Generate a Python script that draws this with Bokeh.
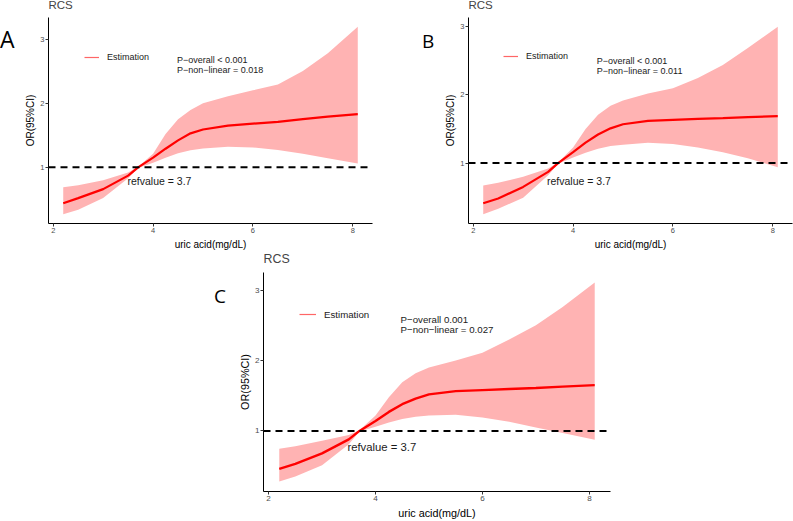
from bokeh.plotting import figure
from bokeh.models import (ColumnDataSource, Range1d, FixedTicker, Span, Label,
                          Legend, LegendItem, Spacer, Div)
from bokeh.layouts import row, column
from bokeh.embed import file_html
from bokeh.resources import INLINE

# ---------------- data ----------------
uric_acid = [2.2, 2.5, 3.0, 3.5, 3.7, 4.0, 4.25, 4.5, 4.75, 5.0, 5.5, 6.0, 6.5, 7.0, 7.5, 8.1]

or_a = [0.44, 0.52, 0.66, 0.87, 1.00, 1.15, 1.29, 1.42, 1.53, 1.59, 1.65, 1.68, 1.71, 1.75, 1.79, 1.83]
upper_a = [0.69, 0.72, 0.80, 0.92, 1.01, 1.21, 1.52, 1.75, 1.895, 2.00, 2.11, 2.20, 2.29, 2.50, 2.78, 3.19]
lower_a = [0.27, 0.34, 0.52, 0.83, 0.99, 1.07, 1.15, 1.22, 1.265, 1.295, 1.32, 1.31, 1.27, 1.21, 1.14, 1.06]

or_b = [0.41, 0.48, 0.65, 0.87, 1.00, 1.16, 1.30, 1.42, 1.51, 1.57, 1.62, 1.635, 1.65, 1.66, 1.675, 1.69]
upper_b = [0.67, 0.71, 0.80, 0.92, 1.01, 1.23, 1.50, 1.71, 1.84, 1.92, 2.02, 2.10, 2.25, 2.44, 2.69, 3.00]
lower_b = [0.25, 0.33, 0.49, 0.82, 0.99, 1.08, 1.15, 1.21, 1.25, 1.27, 1.30, 1.28, 1.23, 1.16, 1.07, 0.94]

or_c = [0.46, 0.53, 0.68, 0.88, 1.00, 1.14, 1.27, 1.38, 1.46, 1.52, 1.565, 1.58, 1.595, 1.61, 1.63, 1.65]
upper_c = [0.745, 0.78, 0.86, 0.94, 1.01, 1.22, 1.48, 1.69, 1.82, 1.90, 2.00, 2.11, 2.30, 2.50, 2.76, 3.11]
lower_c = [0.28, 0.35, 0.51, 0.81, 0.99, 1.06, 1.12, 1.17, 1.20, 1.22, 1.23, 1.19, 1.13, 1.05, 0.97, 0.875]

x_ticks = [2, 4, 6, 8]
y_ticks = [1, 2, 3]
reference_or = 1
ref_value = 3.7
panel_letters = ["A", "B", "C"]
p_overall = ["P\u2212overall < 0.001", "P\u2212overall < 0.001", "P\u2212overall 0.001"]
p_nonlinear = ["P\u2212non\u2212linear = 0.018", "P\u2212non\u2212linear = 0.011", "P\u2212non\u2212linear = 0.027"]

FONT = "Liberation Sans"


def make_panel(est, lo, hi, p1, p2, cfg):
    xmin, xmax = min(uric_acid), max(uric_acid)
    xpad = 0.05 * (xmax - xmin)
    ymin, ymax = min(lo), max(hi)
    ypad = 0.05 * (ymax - ymin)
    s = cfg["scale"]
    p = figure(width=cfg["w"], height=cfg["h"],
               x_range=Range1d(xmin - xpad, xmax + xpad),
               y_range=Range1d(ymin - ypad, ymax + ypad),
               output_backend="svg", toolbar_location=None,
               min_border_left=cfg["bl"], min_border_right=cfg["br"],
               min_border_top=cfg["bt"], min_border_bottom=cfg["bb"],
               margin=(cfg["mt"], 0, 0, 0))
    p.background_fill_color = "white"
    p.border_fill_color = "white"
    p.border_fill_alpha = 0
    p.outline_line_color = None
    p.grid.visible = False

    p.title.text = "RCS"
    p.title.text_font = FONT
    p.title.text_font_style = "normal"
    p.title.text_font_size = f"{11.5 * s:.1f}px"
    p.title.align = "left"
    p.title.vertical_align = "bottom"
    p.title.standoff = cfg["ts"]

    src = ColumnDataSource(dict(x=uric_acid, est=est, lo=lo, hi=hi))
    p.varea(x="x", y1="lo", y2="hi", source=src, fill_color="#FFB3B3")
    p.line(x="x", y="est", source=src, line_color="red", line_width=2.2 * s)
    p.add_layout(Span(location=reference_or, dimension="width", line_color="black",
                      line_width=2, line_dash="7 5"))

    for ax in (p.xaxis[0], p.yaxis[0]):
        ax.axis_line_color = "black"
        ax.axis_line_width = 1
        ax.major_tick_out = 3
        ax.major_tick_in = 0
        ax.minor_tick_line_color = None
        ax.major_tick_line_color = "#333333"
        ax.major_label_text_font = FONT
        ax.major_label_text_font_size = f"{7.5 * s:.1f}px"
        ax.major_label_text_color = "#4D4D4D"
        ax.axis_label_text_font = FONT
        ax.axis_label_text_font_style = "normal"
        ax.axis_label_text_font_size = f"{10 * s:.1f}px"
        ax.axis_label_text_color = "black"
    p.xaxis.ticker = FixedTicker(ticks=x_ticks)
    p.yaxis.ticker = FixedTicker(ticks=y_ticks)
    p.xaxis.axis_label = "uric acid(mg/dL)"
    p.yaxis.axis_label = "OR(95%CI)"
    p.xaxis.major_label_standoff = 1
    p.xaxis.axis_label_standoff = 3
    p.yaxis.major_label_standoff = 1
    p.yaxis.axis_label_standoff = 1

    # legend key: a one-point line (draws nothing in the plot itself)
    key = p.line(x=[ref_value], y=[reference_or], line_color="red", line_alpha=0.6,
                 line_width=1.2)
    leg = Legend(items=[LegendItem(label="Estimation", renderers=[key])],
                 location=cfg["leg"], padding=0, margin=0, spacing=0,
                 glyph_width=cfg["gw"], glyph_height=12, label_height=12,
                 label_standoff=8, border_line_alpha=0, background_fill_alpha=0,
                 label_text_font=FONT, label_text_font_size=f"{9 * s:.1f}px",
                 label_text_color="#1a1a1a")
    p.add_layout(leg)

    px, py1, py2 = cfg["ptxt"]
    for txt, yy in ((p1, py1), (p2, py2)):
        p.add_layout(Label(x=px, y=yy, text=txt, text_font=FONT,
                           text_font_size=f"{9 * s:.1f}px", text_align="left",
                           text_baseline="middle", text_color="#1a1a1a"))
    rx, ry = cfg["ref"]
    p.add_layout(Label(x=rx, y=ry, text=f"refvalue = {ref_value}", text_font=FONT,
                       text_font_size=f"{10.5 * s:.1f}px", text_align="left",
                       text_baseline="middle", text_color="#1a1a1a"))
    return p


def letter_div(letter, w, h, size, pad_top, pad_left):
    html = (f'<div style="font-family:\'Open Sans\';font-size:{size}px;'
            f'line-height:{size}px;padding-top:{pad_top}px;padding-left:{pad_left}px;'
            f'color:black;margin:0">{letter}</div>')
    return Div(text=html, width=w, height=h, margin=0)


cfg_a = dict(w=378, h=265, mt=-13, bl=24, br=28, bt=30, bb=26, ts=13, scale=1.0,
             leg=(36, 160), gw=15, ptxt=(4.48, 2.677, 2.523), ref=(3.488, 0.784))
cfg_b = dict(w=351, h=265, mt=-13, bl=26, br=1, bt=30, bb=26, ts=13, scale=1.0,
             leg=(35, 161), gw=15, ptxt=(4.475, 2.50, 2.356), ref=(3.477, 0.738))
cfg_c = dict(w=385, h=278, mt=-9, bl=28, br=10, bt=29, bb=27, ts=12.6, scale=1.08,
             leg=(36, 171), gw=17, ptxt=(4.468, 2.588, 2.435), ref=(3.474, 0.768))

pa = make_panel(or_a, lower_a, upper_a, p_overall[0], p_nonlinear[0], cfg_a)
pb = make_panel(or_b, lower_b, upper_b, p_overall[1], p_nonlinear[1], cfg_b)
pc = make_panel(or_c, lower_c, upper_c, p_overall[2], p_nonlinear[2], cfg_c)

div_a = letter_div(panel_letters[0], 22, 252, 23, 28, 0)
div_b = letter_div(panel_letters[1], 42, 252, 19, 32, 22)
div_c = letter_div(panel_letters[2], 35, 269, 19, 35, 14)

layout = column(row(div_a, pa, div_b, pb),
                row(Spacer(width=200, height=269), div_c, pc))

open("out.html", "w").write(file_html(layout, INLINE))
